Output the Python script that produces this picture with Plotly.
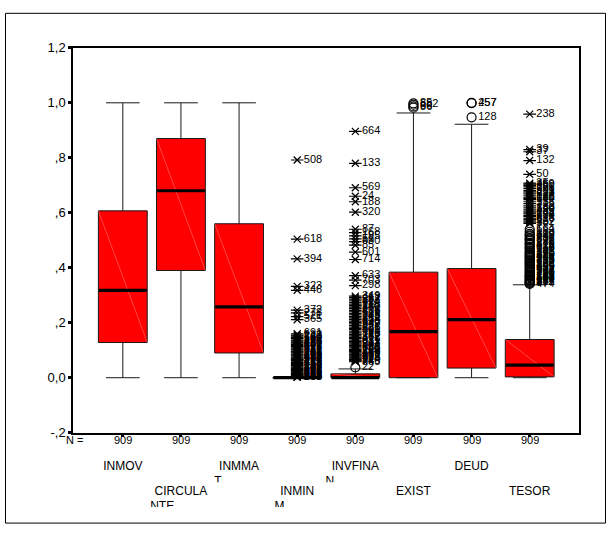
import plotly.graph_objects as go

# ---------------------------------------------------------------- data
categories = ["INMOV", "CIRCULANTE", "INMMAT", "INMINM", "INVFINAN", "EXIST", "DEUD", "TESOR"]
label_lines = [["INMOV"], ["CIRCULA", "NTE"], ["INMMA", "T"], ["INMIN", "M"],
               ["INVFINA", "N"], ["EXIST"], ["DEUD"], ["TESOR"]]
n_cases = [909, 909, 909, 909, 909, 909, 909, 909]

q1 = [0.128, 0.390, 0.090, 0.000, 0.000, 0.000, 0.035, 0.003]
median = [0.318, 0.680, 0.258, 0.000, 0.000, 0.168, 0.211, 0.046]
q3 = [0.607, 0.870, 0.560, 0.000, 0.014, 0.384, 0.397, 0.139]
lower_whisker = [0.000, 0.000, 0.000, 0.000, 0.000, 0.000, 0.000, 0.000]
upper_whisker = [1.000, 1.000, 1.000, 0.000, 0.032, 0.963, 0.922, 0.338]

# outliers (circles) and extremes (stars) with case numbers
inminm_ext_vals = [0.792, 0.504, 0.432, 0.332, 0.318, 0.246, 0.236, 0.222, 0.211,
                   0.160, 0.155, 0.151, 0.146, 0.142, 0.137, 0.133, 0.129, 0.126,
                   0.121, 0.117, 0.113, 0.109, 0.105, 0.101, 0.097, 0.094, 0.090,
                   0.086, 0.082, 0.079, 0.075, 0.071, 0.068, 0.066, 0.062, 0.058,
                   0.055, 0.052, 0.048, 0.045, 0.042, 0.039, 0.036, 0.033, 0.030,
                   0.027, 0.024, 0.021, 0.018, 0.016, 0.013, 0.011, 0.009, 0.007,
                   0.005, 0.004, 0.002, 0.001]
inminm_ext_ids = ["508", "618", "394", "323", "446", "372", "278", "521", "365",
                  "691", "212", "140", "764", "580", "33", "196", "426", "880",
                  "251", "447", "609", "276", "98", "812", "341", "239", "707",
                  "355", "162", "610", "883", "432", "57", "530", "294", "117",
                  "725", "658", "413", "292", "186", "745", "602", "83", "377",
                  "401", "249", "536", "871", "679", "15", "632", "453", "105",
                  "789", "714", "268", "353"]

invfinan_out_vals = [0.038]
invfinan_out_ids = ["22"]
invfinan_ext_vals = [0.896, 0.780, 0.691, 0.660, 0.640, 0.602, 0.540, 0.528, 0.516,
                     0.505, 0.495, 0.482, 0.457, 0.430, 0.371, 0.355, 0.335, 0.297,
                     0.291, 0.286, 0.280, 0.274, 0.268, 0.262, 0.257, 0.251, 0.245,
                     0.240, 0.234, 0.229, 0.223, 0.218, 0.212, 0.206, 0.201, 0.196,
                     0.190, 0.184, 0.179, 0.175, 0.169, 0.163, 0.158, 0.152, 0.147,
                     0.143, 0.137, 0.131, 0.127, 0.122, 0.117, 0.112, 0.108, 0.103,
                     0.099, 0.095, 0.090, 0.086, 0.082, 0.079, 0.075, 0.071, 0.067,
                     0.064, 0.061, 0.058]
invfinan_ext_ids = ["664", "133", "569", "24", "188", "320", "87", "168", "195",
                    "56", "630", "85", "601", "714", "633", "703", "298", "349",
                    "412", "257", "583", "624", "71", "118", "760", "872", "206",
                    "437", "519", "305", "148", "712", "854", "63", "390", "549",
                    "277", "226", "636", "801", "49", "390", "715", "157", "362",
                    "478", "821", "611", "203", "94", "547", "336", "688", "742",
                    "119", "250", "463", "519", "802", "677", "315", "408", "574",
                    "31", "740", "865"]

exist_out_vals = [0.998, 0.993, 0.987, 0.982]
exist_out_ids = ["85", "582", "66", "86"]

deud_out_vals = [1.000, 0.999, 0.947]
deud_out_ids = ["257", "457", "128"]

tesor_out_vals = [0.341, 0.343, 0.346, 0.349, 0.352, 0.355, 0.358, 0.362, 0.366,
                  0.369, 0.371, 0.375, 0.379, 0.384, 0.388, 0.392, 0.397, 0.401,
                  0.405, 0.411, 0.414, 0.418, 0.423, 0.426, 0.431, 0.436, 0.439,
                  0.444, 0.447, 0.452, 0.456, 0.461, 0.468, 0.472, 0.476, 0.483,
                  0.487, 0.491, 0.499, 0.503, 0.507, 0.514, 0.518, 0.523, 0.531,
                  0.540]
tesor_out_ids = ["474", "877", "211", "655", "38", "129", "402", "693", "561",
                 "245", "129", "781", "730", "288", "504", "617", "93", "659",
                 "346", "508", "25", "172", "733", "815", "263", "396", "44",
                 "820", "590", "371", "145", "702", "159", "618", "836", "415",
                 "579", "238", "627", "306", "71", "549", "802", "310", "183",
                 "664"]
tesor_ext_vals = [0.959, 0.830, 0.822, 0.790, 0.740, 0.708, 0.704, 0.700, 0.694,
                  0.688, 0.681, 0.676, 0.671, 0.664, 0.657, 0.652, 0.648, 0.640,
                  0.633, 0.625, 0.618, 0.611, 0.606, 0.600, 0.596, 0.590, 0.586,
                  0.580, 0.575, 0.570, 0.566, 0.561]
tesor_ext_ids = ["238", "39", "37", "132", "50", "35", "469", "359", "366",
                 "72", "501", "838", "213", "527", "296", "160", "644", "75",
                 "316", "722", "380", "590", "432", "248", "192", "684", "27",
                 "513", "616", "92", "452", "307"]

y_ticks = [-0.2, 0.0, 0.2, 0.4, 0.6, 0.8, 1.0, 1.2]
y_tick_text = ["-,2", "0,0", ",2", ",4", ",6", ",8", "1,0", "1,2"]

# ---------------------------------------------------------------- geometry
W, H = 614, 534
PL, PR, PT, PB = 73, 579, 42, 438           # plot area in pixels
X_RANGE = [0.143, 8.848]
px_per_unit = (PR - PL) / (X_RANGE[1] - X_RANGE[0])
BOX_W = 0.84
FONT = "Arial, Liberation Sans, sans-serif"
positions = list(range(1, len(categories) + 1))


def py(pix):
    """pixel row (from top) -> paper fraction"""
    return (H - pix) / H


def px(pix):
    return pix / W


fig = go.Figure()

# boxes
for i, name in enumerate(categories):
    fig.add_trace(go.Box(
        x=[positions[i]], q1=[q1[i]], median=[median[i]], q3=[q3[i]],
        lowerfence=[lower_whisker[i]], upperfence=[upper_whisker[i]],
        width=BOX_W, whiskerwidth=0.69, boxpoints=False,
        fillcolor="#ff0000", line=dict(color="#1a1a1a", width=1),
        name=name, showlegend=False, hoverinfo="skip",
    ))

# faint diagonal shading line inside each box
dx, dy = [], []
for i in range(len(categories)):
    if q3[i] > q1[i]:
        dx += [positions[i] - BOX_W / 2, positions[i] + BOX_W / 2, None]
        dy += [q3[i], q1[i], None]
fig.add_trace(go.Scatter(x=dx, y=dy, mode="lines", showlegend=False, hoverinfo="skip",
                         line=dict(color="rgba(255,210,210,0.55)", width=0.6)))

# thick median bars
mx, my = [], []
for i in range(len(categories)):
    mx += [positions[i] - BOX_W / 2 + 0.01, positions[i] + BOX_W / 2 - 0.01, None]
    my += [median[i], median[i], None]
fig.add_trace(go.Scatter(x=mx, y=my, mode="lines", showlegend=False, hoverinfo="skip",
                         line=dict(color="black", width=3.2)))


def add_points(cat, vals, ids, kind):
    xs = [positions[categories.index(cat)]] * len(vals)
    tf = dict(family=FONT, size=11, color="black")
    if kind == "circle":
        fig.add_trace(go.Scatter(
            x=xs, y=vals, text=ids, mode="markers+text", textposition="middle right",
            textfont=tf, showlegend=False, hoverinfo="skip",
            marker=dict(symbol="circle-open", size=9, color="black", line=dict(width=1.2))))
    else:
        fig.add_trace(go.Scatter(
            x=xs, y=vals, mode="markers", showlegend=False, hoverinfo="skip",
            marker=dict(symbol="x-thin-open", size=7, color="black", line=dict(width=1.2))))
        fig.add_trace(go.Scatter(
            x=xs, y=vals, text=ids, mode="markers+text", textposition="middle right",
            textfont=tf, showlegend=False, hoverinfo="skip",
            marker=dict(symbol="line-ew-open", size=9, color="black", line=dict(width=1.2))))


add_points("INMINM", inminm_ext_vals, inminm_ext_ids, "star")
add_points("INVFINAN", invfinan_out_vals, invfinan_out_ids, "circle")
add_points("INVFINAN", invfinan_ext_vals, invfinan_ext_ids, "star")
add_points("EXIST", exist_out_vals, exist_out_ids, "circle")
add_points("DEUD", deud_out_vals, deud_out_ids, "circle")
add_points("TESOR", tesor_out_vals, tesor_out_ids, "circle")
add_points("TESOR", tesor_ext_vals, tesor_ext_ids, "star")

# category labels, wrapped and clipped in two staggered rows
wrap_indent_px = {"CIRCULANTE": 29, "INMMAT": 23, "INMINM": 21, "INVFINAN": 28}
rows = {0: dict(axis="2", first=473.4, second=489.0, clip=(463, 489.0)),
        1: dict(axis="3", first=498.6, second=514.0, clip=(490, 514.5))}
for r, spec in rows.items():
    fx, fy, ft, sx, sy, st = [], [], [], [], [], []
    for i, name in enumerate(categories):
        if i % 2 != r:
            continue
        lines = label_lines[i]
        fx.append(positions[i]); fy.append(spec["first"]); ft.append(lines[0])
        if len(lines) > 1:
            sx.append(positions[i] - wrap_indent_px[name] / px_per_unit - 0.03)
            sy.append(spec["second"]); st.append(lines[1])
    ax = spec["axis"]
    fig.add_trace(go.Scatter(x=fx, y=fy, text=ft, mode="text", textposition="middle center",
                             xaxis="x" + ax, yaxis="y" + ax, showlegend=False, hoverinfo="skip",
                             cliponaxis=True, textfont=dict(family=FONT, size=12, color="black")))
    fig.add_trace(go.Scatter(x=sx, y=sy, text=st, mode="text", textposition="middle right",
                             xaxis="x" + ax, yaxis="y" + ax, showlegend=False, hoverinfo="skip",
                             cliponaxis=True, textfont=dict(family=FONT, size=12, color="black")))

hidden = dict(showgrid=False, zeroline=False, showticklabels=False, showline=False, ticks="")
fig.update_layout(
    width=W, height=H, margin=dict(l=0, r=0, t=0, b=0),
    paper_bgcolor="white", plot_bgcolor="white", showlegend=False,
    font=dict(family=FONT, color="black"),
    xaxis=dict(domain=[px(PL), px(PR)], range=X_RANGE, tickvals=positions,
               showticklabels=False, ticks="outside", ticklen=3, tickwidth=3,
               tickcolor="black", showline=True, linecolor="black", linewidth=1.5,
               mirror=True, showgrid=False, zeroline=False),
    yaxis=dict(domain=[py(PB), py(PT)], range=[-0.2, 1.2], tickvals=y_ticks,
               ticktext=y_tick_text, ticks="outside", ticklen=3, tickwidth=3,
               tickcolor="black", tickfont=dict(size=13), showline=True,
               linecolor="black", linewidth=1.5, mirror=True, showgrid=False,
               zeroline=False),
    xaxis2=dict(domain=[px(PL), px(PR)], range=X_RANGE, anchor="y2", **hidden),
    yaxis2=dict(domain=[py(rows[0]["clip"][1]), py(rows[0]["clip"][0])],
                range=[rows[0]["clip"][1], rows[0]["clip"][0]], anchor="x2", **hidden),
    xaxis3=dict(domain=[px(PL), px(PR)], range=X_RANGE, anchor="y3", **hidden),
    yaxis3=dict(domain=[py(rows[1]["clip"][1]), py(rows[1]["clip"][0])],
                range=[rows[1]["clip"][1], rows[1]["clip"][0]], anchor="x3", **hidden),
)

# case counts row
fig.add_annotation(x=px(74), y=py(445), xref="paper", yref="paper", text="N =",
                   xanchor="center", yanchor="middle", showarrow=False, font=dict(size=11))
for i in range(len(categories)):
    fig.add_annotation(x=positions[i], y=py(445), xref="x", yref="paper",
                       xanchor="center", yanchor="middle",
                       text=str(n_cases[i]), showarrow=False, font=dict(size=11))

# outer frame
fig.add_shape(type="rect", xref="paper", yref="paper", x0=px(5.5), x1=px(605.5),
              y0=py(531), y1=py(6.5), line=dict(color="black", width=1))

fig.write_html("out.html")
